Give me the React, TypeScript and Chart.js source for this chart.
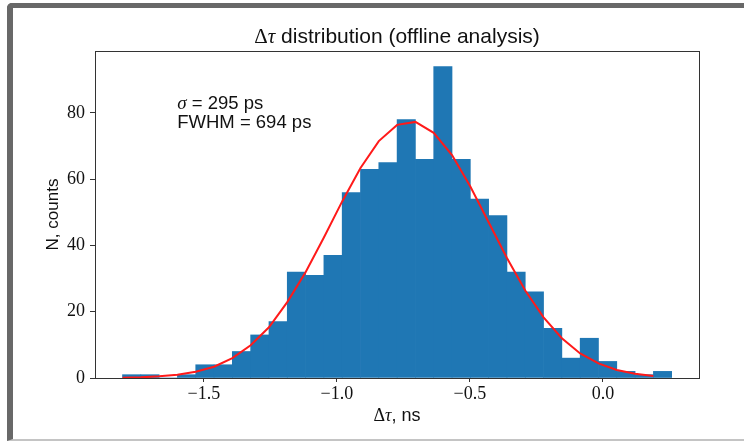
import React, { useEffect, useRef } from "react";
import { Chart, registerables } from "chart.js";

Chart.register(...registerables);

// Histogram bin edges (ns)
const binEdges = [
  -1.8056, -1.7368, -1.668, -1.5992, -1.5304, -1.4616, -1.3928, -1.324, -1.2552, -1.1864,
  -1.1176, -1.0488, -0.98, -0.9112, -0.8424, -0.7736, -0.7048, -0.636, -0.5672, -0.4984,
  -0.4296, -0.3608, -0.292, -0.2232, -0.1544, -0.0856, -0.0168, 0.052, 0.1208, 0.1896, 0.2584,
];

// Counts per bin
const counts = [
  1, 1, 0, 1, 4, 4, 8, 13, 17, 32,
  31, 37, 56, 63, 65, 78, 66, 94, 66, 54,
  49, 32, 26, 15, 6, 12, 5, 2, 1, 2,
];

// Gaussian fit curve, evaluated at the left bin edges
const fitValues = [
  0.1, 0.2, 0.5, 1.0, 1.9, 3.4, 6.0, 9.9, 15.3, 22.9,
  31.9, 42.4, 53.3, 63.4, 71.5, 76.4, 77.3, 74.0, 67.3, 57.8,
  47.0, 36.2, 26.4, 18.3, 12.0, 7.4, 4.4, 2.4, 1.3, 0.6,
];

const xTickValues = [-1.5, -1.0, -0.5, 0.0];
const yTickValues = [0, 20, 40, 60, 80];

const titleText = " distribution (offline analysis)";
const xLabelText = ", ns";
const yLabelText = "N, counts";
const sigmaText = " = 295 ps";
const fwhmText = "FWHM = 694 ps";

const X_MIN = -1.909;
const X_MAX = 0.361;
const Y_MAX = 98.7;
const ANNOT_X = -1.6;
const ANNOT_Y = 81.3;

const SERIF = '"Liberation Serif", "DejaVu Serif", serif';
const SANS = '"Liberation Sans", Arial, sans-serif';
const TEXT_COLOR = "#111";

type Run = { text: string; font: string };

function drawRuns(ctx: CanvasRenderingContext2D, runs: Run[], x: number, y: number, align: "left" | "center") {
  let total = 0;
  const widths = runs.map((r) => {
    ctx.font = r.font;
    const w = ctx.measureText(r.text).width;
    total += w;
    return w;
  });
  let cx = align === "center" ? x - total / 2 : x;
  ctx.textAlign = "left";
  ctx.textBaseline = "alphabetic";
  runs.forEach((r, i) => {
    ctx.font = r.font;
    ctx.fillText(r.text, cx, y);
    cx += widths[i];
  });
}

function fmtTick(v: number) {
  const s = Math.abs(v).toFixed(1);
  return v < 0 ? "\u2212" + s : s;
}

const decorPlugin = {
  id: "decor",
  afterDatasetsDraw(chart: any) {
    const { ctx, chartArea: a, scales } = chart;
    ctx.save();
    // axes box
    ctx.strokeStyle = "#333";
    ctx.lineWidth = 1;
    ctx.strokeRect(a.left + 0.5, a.top + 0.5, a.right - a.left, a.bottom - a.top);
    ctx.fillStyle = TEXT_COLOR;
    const cx = (a.left + a.right) / 2;
    // title
    drawRuns(
      ctx,
      [
        { text: "\u0394", font: `21px ${SERIF}` },
        { text: "\u03c4", font: `italic 21px ${SERIF}` },
        { text: titleText, font: `21px ${SANS}` },
      ],
      cx,
      43,
      "center"
    );
    // x label
    drawRuns(
      ctx,
      [
        { text: "\u0394", font: `18px ${SERIF}` },
        { text: "\u03c4", font: `italic 18px ${SERIF}` },
        { text: xLabelText, font: `18px ${SANS}` },
      ],
      cx,
      421,
      "center"
    );
    // y label
    ctx.save();
    ctx.translate(58, (a.top + a.bottom) / 2);
    ctx.rotate(-Math.PI / 2);
    drawRuns(ctx, [{ text: yLabelText, font: `17px ${SANS}` }], 0, 0, "center");
    ctx.restore();
    // annotation
    const ax = scales.x.getPixelForValue(ANNOT_X);
    const ay = scales.y.getPixelForValue(ANNOT_Y);
    drawRuns(
      ctx,
      [
        { text: "\u03c3", font: `italic 19px ${SERIF}` },
        { text: sigmaText, font: `18.5px ${SANS}` },
      ],
      ax,
      ay,
      "left"
    );
    drawRuns(ctx, [{ text: fwhmText, font: `18.5px ${SANS}` }], ax, ay + 19.5, "left");
    ctx.restore();
  },
};

export default function App() {
  const canvasRef = useRef<HTMLCanvasElement | null>(null);

  useEffect(() => {
    const canvas = canvasRef.current;
    if (!canvas) return;
    const barData = counts.map((c, i) => ({ x: (binEdges[i] + binEdges[i + 1]) / 2, y: c }));
    const fitData = fitValues.map((v, i) => ({ x: binEdges[i], y: v }));

    const chart = new Chart(canvas, {
      type: "bar",
      data: {
        datasets: [
          {
            type: "line",
            data: fitData,
            borderColor: "#ff1a1a",
            borderWidth: 2,
            pointRadius: 0,
            tension: 0,
            fill: false,
            order: 0,
          } as any,
          {
            type: "bar",
            data: barData,
            backgroundColor: "#1f77b4",
            borderWidth: 0,
            barPercentage: 1,
            categoryPercentage: 1,
            order: 1,
          } as any,
        ],
      },
      options: {
        responsive: false,
        animation: false,
        devicePixelRatio: 1,
        layout: { padding: { left: 0, top: 51, right: 45, bottom: 0 } },
        plugins: {
          legend: { display: false },
          tooltip: { enabled: false },
          title: { display: false },
        },
        scales: {
          x: {
            type: "linear",
            min: X_MIN,
            max: X_MAX,
            offset: false,
            afterBuildTicks: (axis: any) => {
              axis.ticks = xTickValues.map((v) => ({ value: v }));
            },
            afterFit: (axis: any) => {
              axis.height = 63;
            },
            border: { display: false },
            grid: {
              offset: false,
              drawOnChartArea: false,
              drawTicks: true,
              tickLength: 4,
              tickColor: "#333",
              tickWidth: 1,
            },
            ticks: {
              padding: 1,
              maxRotation: 0,
              autoSkip: false,
              color: TEXT_COLOR,
              font: { family: SERIF, size: 18 },
              callback: (v: any) => fmtTick(Number(v)),
            },
          },
          y: {
            type: "linear",
            min: 0,
            max: Y_MAX,
            afterBuildTicks: (axis: any) => {
              axis.ticks = yTickValues.map((v) => ({ value: v }));
            },
            afterFit: (axis: any) => {
              axis.width = 95;
            },
            border: { display: false },
            grid: {
              offset: false,
              drawOnChartArea: false,
              drawTicks: true,
              tickLength: 5,
              tickColor: "#333",
              tickWidth: 1,
            },
            ticks: {
              padding: 5,
              autoSkip: false,
              color: TEXT_COLOR,
              font: { family: SERIF, size: 18 },
              callback: (v: any) => String(v),
            },
          },
        },
      },
      plugins: [decorPlugin],
    });
    return () => chart.destroy();
  }, []);

  return (
    <div
      style={{
        position: "absolute",
        left: 0,
        top: 0,
        width: 744,
        height: 441,
        background: "#fff",
        overflow: "hidden",
      }}
    >
      <div
        style={{
          position: "absolute",
          left: 7,
          top: 3,
          width: 760,
          height: 438,
          boxSizing: "border-box",
          borderLeft: "6px solid #686868",
          borderTop: "5px solid #686868",
          borderBottom: "2px solid #c4c4c4",
          borderTopLeftRadius: 5,
        }}
      />
      <canvas
        ref={canvasRef}
        width={744}
        height={441}
        style={{ position: "absolute", left: 0, top: 0, width: 744, height: 441 }}
      />
    </div>
  );
}
